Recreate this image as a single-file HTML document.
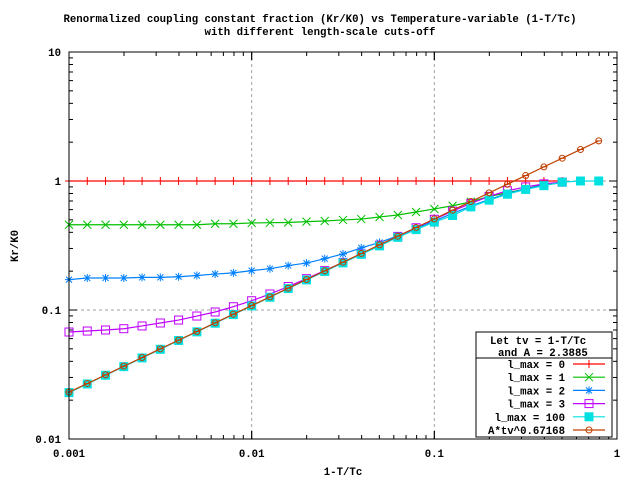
<!DOCTYPE html>
<html><head><meta charset="utf-8"><style>
body{margin:0;background:#fff}
svg text{font-family:"Liberation Mono",monospace;font-weight:bold;font-size:10.7px;fill:#000}
</style></head><body>
<svg id="c" width="640" height="480" xmlns="http://www.w3.org/2000/svg">
<rect width="640" height="480" fill="#fff"/>
<text x="320" y="22" text-anchor="middle">Renormalized coupling constant fraction (Kr/K0) vs Temperature-variable (1-T/Tc)</text>
<text x="320" y="35" text-anchor="middle">with different length-scale cuts-off</text>
<text x="343" y="475" text-anchor="middle">1-T/Tc</text>
<text transform="translate(18,246) rotate(-90)" text-anchor="middle">Kr/K0</text>
</svg>
<script>
const kIndex=[0,1,2,3,4,5,6,7,8,9,10,11,12,13,14,15,16,17,18,19,20,21,22,23,24,25,26,27,28,29];
const xTicks=[0.001,0.01,0.1,1];
const xTickLabels=["0.001","0.01","0.1","1"];
const yTicks=[0.01,0.1,1,10];
const yTickLabels=["0.01","0.1","1","10"];
const lmax0=[1,1,1,1,1,1,1,1,1,1,1,1,1,1,1,1,1,1,1,1,1,1,1,1,1,1,1,1];
const lmax1=[0.458,0.458,0.458,0.458,0.458,0.458,0.458,0.458,0.466,0.466,0.473,0.475,0.477,0.484,0.49,0.499,0.507,0.526,0.545,0.575,0.607,0.643,0.69,0.76,0.81,0.87,0.94,0.975];
const lmax2=[0.172,0.177,0.177,0.177,0.179,0.179,0.181,0.185,0.19,0.194,0.202,0.209,0.221,0.231,0.25,0.272,0.303,0.334,0.375,0.43,0.49,0.56,0.64,0.72,0.8,0.87,0.93,0.97];
const lmax3=[0.0675,0.0687,0.07,0.0716,0.0752,0.0793,0.0836,0.0898,0.0965,0.106,0.118,0.133,0.152,0.175,0.202,0.234,0.272,0.318,0.372,0.434,0.505,0.585,0.67,0.76,0.84,0.9,0.95,0.98];
const lmax100=[0.0229,0.0267,0.0312,0.0364,0.0425,0.0496,0.058,0.0677,0.079,0.0922,0.1076,0.1256,0.1466,0.171,0.199,0.232,0.27,0.314,0.366,0.42,0.48,0.54,0.63,0.71,0.79,0.86,0.92,0.98,1.0,1.0];
const powerLaw=[0.0231,0.0269,0.0314,0.0367,0.0428,0.05,0.0584,0.0681,0.0795,0.0928,0.1083,0.1264,0.1476,0.1723,0.2011,0.2348,0.2741,0.3199,0.3734,0.4359,0.5088,0.5939,0.6932,0.8091,0.9444,1.1024,1.2867,1.502,1.7532,2.0464];

const L=69,R=617,T=52,B=439;
const X=v=>L+(Math.log10(v)+3)/3*(R-L);
const Y=v=>B-(Math.log10(v)+2)/3*(B-T);
const tv=k=>Math.pow(10,-3+k/10);
const svg=document.getElementById('c');
const NS='http://www.w3.org/2000/svg';
function mk(t,a,p){const e=document.createElementNS(NS,t);for(const k in a)e.setAttribute(k,a[k]);(p||svg).appendChild(e);return e;}

// grid
const grid=mk('g',{});


xTicks.slice(1,3).forEach(v=>mk('line',{x1:X(v),x2:X(v),y1:T,y2:B,stroke:'#a0a0a0','stroke-dasharray':'3,3'},grid));
yTicks.slice(1,3).forEach(v=>mk('line',{x1:L,x2:R,y1:Y(v),y2:Y(v),stroke:'#a0a0a0','stroke-dasharray':'3,3'},grid));

// ticks
const ticks=mk('g',{stroke:'#000'});


for(let d=0;d<3;d++)for(let m=1;m<=10;m++){
  const xv=Math.pow(10,-3+d)*m, yv=Math.pow(10,-2+d)*m;
  const len=(m==1||m==10)?8:4;
  mk('line',{x1:X(xv),x2:X(xv),y1:B,y2:B-len},ticks);
  mk('line',{x1:X(xv),x2:X(xv),y1:T,y2:T+len},ticks);
  mk('line',{x1:L,x2:L+len,y1:Y(yv),y2:Y(yv)},ticks);
  mk('line',{x1:R,x2:R-len,y1:Y(yv),y2:Y(yv)},ticks);
}
xTicks.forEach((v,i)=>{const t=mk('text',{x:X(v),y:B+18,'text-anchor':'middle'});t.textContent=xTickLabels[i];

});
yTicks.forEach((v,i)=>{const t=mk('text',{x:L-8,y:Y(v)+4,'text-anchor':'end'});t.textContent=yTickLabels[i];

});

function marker(g,type,x,y,c){
  if(type=='plus'){mk('path',{d:`M${x-4},${y}h8M${x},${y-4}v8`,stroke:c},g);}
  else if(type=='x'){mk('path',{d:`M${x-4},${y-4}l8,8M${x-4},${y+4}l8,-8`,stroke:c},g);}
  else if(type=='star'){mk('path',{d:`M${x-4},${y}h8M${x},${y-4}v8M${x-3},${y-3}l6,6M${x-3},${y+3}l6,-6`,stroke:c},g);}
  else if(type=='box'){mk('rect',{x:x-4,y:y-4,width:8,height:8,fill:'none',stroke:c},g);}
  else if(type=='fbox'){mk('rect',{x:x-4.5,y:y-4.5,width:9,height:9,fill:c},g);}
  else if(type=='circ'){mk('circle',{cx:x,cy:y,r:3,fill:'none',stroke:c},g);mk('path',{d:`M${x-3},${y}h6`,stroke:c},g);}
}
const series=[
 {d:lmax0,c:'#ff0000',m:'plus',n:'series-lmax-0',lab:'l_max = 0'},
 {d:lmax1,c:'#00c000',m:'x',n:'series-lmax-1',lab:'l_max = 1'},
 {d:lmax2,c:'#0080ff',m:'star',n:'series-lmax-2',lab:'l_max = 2'},
 {d:lmax3,c:'#c000ff',m:'box',n:'series-lmax-3',lab:'l_max = 3'},
 {d:lmax100,c:'#00e0e0',m:'fbox',n:'series-lmax-100',lab:'l_max = 100'},
 {d:powerLaw,c:'#c04000',m:'circ',n:'series-power-law',lab:'A*tv^0.67168'}];
series.forEach(s=>{
  const g=mk('g',{});
  
  
  const pts=s.d.map((v,i)=>[X(tv(kIndex[i])),Y(v)]);
  mk('polyline',{points:pts.map(p=>p.join(',')).join(' '),fill:'none',stroke:s.c,'stroke-width':1.2},g);
  pts.forEach(p=>marker(g,s.m,p[0],p[1],s.c));
});

// frame
const fr=mk('rect',{x:L,y:T,width:R-L,height:B-T,fill:'none',stroke:'#000'});



// legend
const lg=mk('g',{});


mk('rect',{x:476,y:332,width:136,height:105,fill:'#fff',stroke:'#000'},lg);
mk('line',{x1:476,x2:612,y1:358,y2:358,stroke:'#000'},lg);
let t1=mk('text',{x:490,y:344},lg);t1.textContent='Let tv = 1-T/Tc';
let t2=mk('text',{x:498,y:356},lg);t2.textContent='and A = 2.3885';
series.forEach((s,i)=>{
  const y=364+i*13.2;
  const e=mk('g',{},lg);
  
  
  const t=mk('text',{x:565,y:y+4,'text-anchor':'end'},e);t.textContent=s.lab;
  mk('line',{x1:573,x2:605,y1:y,y2:y,stroke:s.c,'stroke-width':1.2},e);
  marker(e,s.m,589,y,s.c);
});
</script>
</body></html>
